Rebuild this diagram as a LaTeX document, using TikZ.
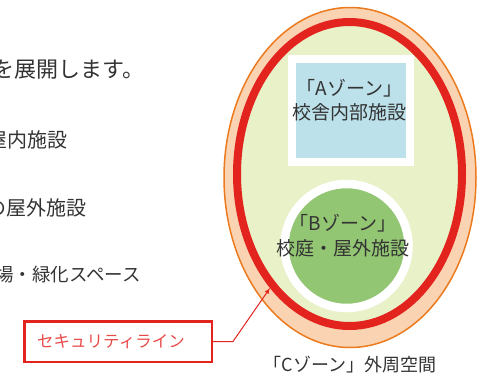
\documentclass[tikz,border=0pt]{standalone}
\usepackage{fontspec}
\setmainfont{Noto Sans CJK JP}
\usetikzlibrary{positioning}
\definecolor{txtclr}{HTML}{333333}
\definecolor{peachclr}{HTML}{F9D3B2}
\definecolor{outclr}{HTML}{EC7A1E}
\definecolor{ringclr}{HTML}{E3231E}
\definecolor{innerclr}{HTML}{E8F1C8}
\definecolor{aclr}{HTML}{BCE1EA}
\definecolor{bclr}{HTML}{93C673}
\definecolor{sectxtclr}{HTML}{E84A4A}
\tikzset{ %
  ,>=latex
  ,every node/.style={inner sep=0, text=txtclr}
  ,lead/.style={anchor=west, font=\fontsize{20}{24}\selectfont}
  ,zonetxt/.style={align=center, font=\fontsize{19}{24.5}\selectfont}
  ,abox/.style={draw=white, line width=8pt, fill=aclr, minimum width=118pt, minimum height=103pt}
  ,bdisc/.style={circle, draw=white, line width=8.5pt, fill=bclr, minimum size=124pt}
  ,secbox/.style={draw=ringclr, line width=2.5pt, minimum width=187.5pt, minimum height=40.5pt, text=sectxtclr, font=\fontsize{16.5}{20}\selectfont}
}
\begin{document}
\begin{tikzpicture}[x=1pt, y=-1pt]
      \useasboundingbox (0,0) rectangle (479,375);
      % text on the left
      \node[lead, font=\fontsize{22}{24}\selectfont] (head) at (-8,70) {を展開します。};
      \node[lead] (la) at (-13,140) {屋内施設};
      \node[lead] (lb) at (-14,208) {の屋外施設};
      \node[lead, font=\fontsize{18.5}{22}\selectfont] (lc) at (-5,275) {場・緑化スペース};
      % zones
      \draw[outclr, line width=1.5pt, fill=peachclr] (350,177.5) ellipse [x radius=126pt, y radius=170pt];
      \draw[ringclr, line width=8pt, fill=innerclr] (349.5,174) ellipse [x radius=112.5pt, y radius=152pt];
      \draw
      node[abox] (za) at (351,110.5) {}
      node[bdisc] (zb) at (346.5,246) {};
      \node[zonetxt] (ta) at (349.5,100) {「Aゾーン」\\校舎内部施設};
      \node[zonetxt] (tb) at (343,235.5) {「Bゾーン」\\校庭・屋外施設};
      \node[font=\fontsize{18}{22}\selectfont] (tc) at (350,365) {「Cゾーン」外周空間};
      % security line label
      \node[secbox] (sec) at (118,341.5) {\hspace*{-14pt}セキュリティライン};
      \coordinate (ringpt) at (270,288);
      \draw[ringclr, line width=1pt, ->] (sec.east) -- ++(20,0) coordinate (bend) -- (ringpt);
\end{tikzpicture}
\end{document}
